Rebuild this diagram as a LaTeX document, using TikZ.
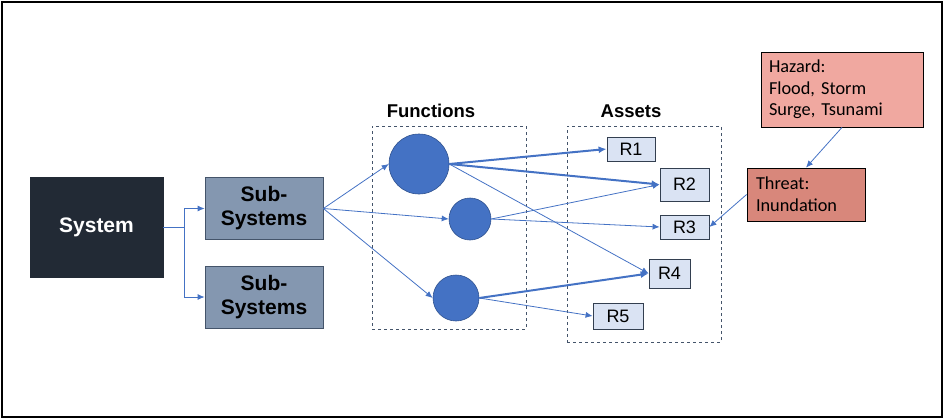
\documentclass[tikz,border=0pt]{standalone}
\usepackage{fontspec}
\setmainfont{Liberation Sans}
\newfontfamily\carl{Carlito}
\usetikzlibrary{arrows.meta}
\definecolor{sysfill}{HTML}{222A35}
\definecolor{subfill}{HTML}{8497B0}
\definecolor{subdraw}{HTML}{44546A}
\definecolor{circfill}{HTML}{4472C4}
\definecolor{circdraw}{HTML}{2F528F}
\definecolor{rfill}{HTML}{DAE3F3}
\definecolor{rdraw}{HTML}{333F50}
\definecolor{arr}{HTML}{4472C4}
\definecolor{hazfill}{HTML}{F0A8A0}
\definecolor{thrfill}{HTML}{D8877B}
\tikzset{
  sysbox/.style={draw=sysfill, fill=sysfill, text=white, font=\bfseries\fontsize{21}{24}\selectfont, inner sep=0pt},
  subbox/.style={draw=subdraw, line width=0.8pt, fill=subfill, font=\bfseries\fontsize{21}{24}\selectfont, align=center, minimum width=118pt, minimum height=62pt, inner sep=0pt},
  grpbox/.style={draw=subdraw, dashed, line width=0.8pt, inner sep=0pt},
  grplabel/.style={font=\bfseries\fontsize{18.5}{21}\selectfont, inner sep=0pt},
  fcirc/.style={circle, draw=circdraw, fill=circfill, line width=0.6pt, inner sep=0pt},
  rbox/.style={draw=rdraw, line width=0.8pt, fill=rfill, font=\fontsize{18}{21}\selectfont, inner sep=0pt},
  notebox/.style={draw=black, line width=0.8pt, align=left, font=\carl\fontsize{18.3}{21.7}\selectfont, inner ysep=0pt},
  thin/.style={draw=arr, line width=0.8pt, -{Latex[length=7pt,width=6pt]}},
  thick/.style={draw=arr, line width=2pt, -{Latex[length=8pt,width=7pt]}},
  plain/.style={draw=arr, line width=0.9pt}
}
\begin{document}
\begin{tikzpicture}[x=1pt,y=-1pt]
\useasboundingbox (0,0) rectangle (945,420);
\draw[line width=2pt] (2,2) rectangle (942,417);

\node[sysbox, minimum width=133pt, minimum height=100pt] (sys) at (96.5,227) {System};
\node[subbox] (sub1) at (264,208.5) {Sub-\\Systems};
\node[subbox] (sub2) at (264,297) {Sub-\\Systems};

\node[grpbox, minimum width=154pt, minimum height=203pt] (fbox) at (449,227.5) {};
\node[grpbox, minimum width=154pt, minimum height=216pt] (abox) at (644,234) {};
\node[grplabel] (flab) at (431,111) {Functions};
\node[grplabel] (alab) at (631,111) {Assets};

\node[fcirc, minimum size=60pt] (c1) at (419,164) {};
\node[fcirc, minimum size=42pt] (c2) at (470,219) {};
\node[fcirc, minimum size=46pt] (c3) at (456,298) {};

\node[rbox, minimum width=48pt, minimum height=24pt] (r1) at (631,149) {R1};
\node[rbox, minimum width=49pt, minimum height=33pt] (r2) at (684.5,184.5) {R2};
\node[rbox, minimum width=49pt, minimum height=24pt] (r3) at (684.5,227) {R3};
\node[rbox, minimum width=41pt, minimum height=29pt] (r4) at (669.5,273.5) {R4};
\node[rbox, minimum width=50pt, minimum height=26pt] (r5) at (618,316) {R5};

\node[notebox, fill=hazfill, minimum width=162pt, minimum height=75pt, text width=146pt, inner xsep=8pt] (haz) at (842,89.5) {Hazard:\\Flood, Storm\\Surge, Tsunami};
\node[notebox, fill=thrfill, minimum width=118pt, minimum height=53pt, text width=100pt, inner xsep=9pt] (thr) at (806,194.5) {Threat:\\Inundation};

% system to subsystems
\draw[plain] (sys.east) -- ++(21,0) coordinate (jn);
\draw[thin] (jn) |- (sub1.west);
\draw[thin] (jn) |- (sub2.west);

% subsystem to functions
\draw[thin] (sub1.east) -- (c1.west);
\draw[thin] (sub1.east) -- (c2.west);
\draw[thin] (sub1.east) -- (c3.west);

% functions to assets
\draw[thick] (c1.east) -- (r1.west);
\draw[thick] (c1.east) -- (r2.west);
\draw[thin] (c1.east) -- (r4.west);
\draw[thin] (c2.east) -- (r2.west);
\draw[thin] (c2.east) -- (r3.west);
\draw[thick] (c3.east) -- (r4.west);
\draw[thin] (c3.east) -- (r5.west);

% hazard and threat
\draw[thin] (haz.south) -- (thr.north);
\draw[thin] (thr.west) -- (r3.east);
\end{tikzpicture}
\end{document}
